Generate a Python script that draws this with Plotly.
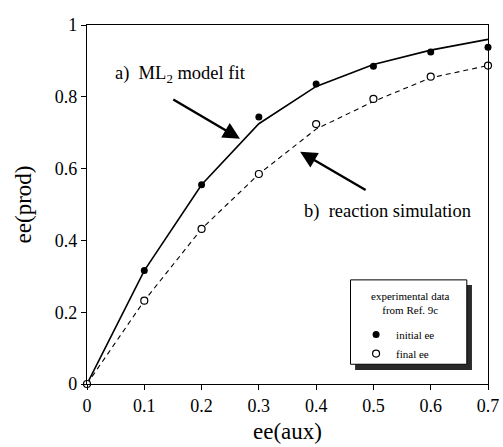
import plotly.graph_objects as go

# ---- data ----
ee_aux_line = [0, 0.1, 0.2, 0.3, 0.4, 0.5, 0.6, 0.7]
model_fit = [0, 0.316, 0.555, 0.725, 0.829, 0.89, 0.93, 0.96]
reaction_sim = [0, 0.232, 0.432, 0.585, 0.71, 0.787, 0.853, 0.887]

ee_aux_initial = [0.1, 0.2, 0.3, 0.4, 0.5, 0.6, 0.7]
initial_ee = [0.316, 0.555, 0.744, 0.836, 0.885, 0.925, 0.938]

ee_aux_final = [0, 0.1, 0.2, 0.3, 0.4, 0.5, 0.6, 0.7]
final_ee = [0, 0.232, 0.432, 0.585, 0.724, 0.794, 0.856, 0.887]

x_ticks = [0, 0.1, 0.2, 0.3, 0.4, 0.5, 0.6, 0.7]
y_ticks = [0, 0.2, 0.4, 0.6, 0.8, 1]

FONT = "Liberation Serif"

fig = go.Figure()
fig.add_trace(go.Scatter(x=ee_aux_line, y=model_fit, mode="lines",
                         line=dict(color="black", width=1.6), showlegend=False,
                         cliponaxis=False))
fig.add_trace(go.Scatter(x=ee_aux_line, y=reaction_sim, mode="lines",
                         line=dict(color="black", width=1.1, dash="5px,4px"),
                         showlegend=False, cliponaxis=False))
fig.add_trace(go.Scatter(x=ee_aux_initial, y=initial_ee, mode="markers", name="initial ee",
                         marker=dict(symbol="circle", size=7, color="black"),
                         cliponaxis=False))
fig.add_trace(go.Scatter(x=ee_aux_final, y=final_ee, mode="markers", name="final ee",
                         marker=dict(symbol="circle", size=7, color="white",
                                     line=dict(color="black", width=1.2)),
                         cliponaxis=False))

# legend box with shadow
fig.add_shape(type="rect", xref="x", yref="y", x0=0.468, x1=0.672, y0=0.039, y1=0.276,
              fillcolor="#2a2a2a", line=dict(width=0), layer="above")
fig.add_shape(type="rect", xref="x", yref="y", x0=0.460, x1=0.663, y0=0.055, y1=0.290,
              fillcolor="white", line=dict(color="black", width=1), layer="above")
fig.add_annotation(x=0.564, y=0.226, xref="x", yref="y", xanchor="center", yanchor="middle",
                   text="experimental data<br>from Ref. 9c", showarrow=False,
                   font=dict(family=FONT, size=11, color="black"))

# annotations
fig.add_annotation(x=0.267, y=0.683, ax=0.148, ay=0.795, xref="x", yref="y",
                   axref="x", ayref="y", text="", showarrow=True,
                   arrowhead=2, arrowsize=1.4, arrowwidth=2.4, arrowcolor="black")
fig.add_annotation(x=0.372, y=0.647, ax=0.489, ay=0.538, xref="x", yref="y",
                   axref="x", ayref="y", text="", showarrow=True,
                   arrowhead=2, arrowsize=1.4, arrowwidth=2.4, arrowcolor="black")
fig.add_annotation(x=0.045, y=0.862, xref="x", yref="y", xanchor="left", yanchor="middle",
                   text="a)  ML<sub>2</sub> model fit", showarrow=False,
                   font=dict(family=FONT, size=18.5, color="black"))
fig.add_annotation(x=0.375, y=0.48, xref="x", yref="y", xanchor="left", yanchor="middle",
                   text="b)  reaction simulation", showarrow=False,
                   font=dict(family=FONT, size=18.5, color="black"))

fig.update_layout(
    width=503, height=447,
    margin=dict(l=87, r=15, t=25, b=63, autoexpand=False),
    paper_bgcolor="white", plot_bgcolor="white",
    font=dict(family=FONT, color="black"),
    showlegend=True,
    legend=dict(x=0.671, y=0.178, xanchor="left", yanchor="top",
                bgcolor="rgba(0,0,0,0)", borderwidth=0,
                font=dict(family=FONT, size=11), itemwidth=30,
                tracegroupgap=0),
    xaxis=dict(range=[0, 0.7], tickvals=x_ticks, ticktext=[str(v) for v in x_ticks],
               showgrid=False, zeroline=False, showline=True, linecolor="black",
               linewidth=1.3, mirror=True, ticks="outside", ticklen=5, tickcolor="black",
               tickfont=dict(family=FONT, size=18), automargin=False,
               title=dict(text="ee(aux)", font=dict(family=FONT, size=23), standoff=8)),
    yaxis=dict(range=[0, 1], tickvals=y_ticks, ticktext=[str(v) for v in y_ticks],
               showgrid=False, zeroline=False, showline=True, linecolor="black",
               linewidth=1.3, mirror=True, ticks="outside", ticklen=5, tickcolor="black",
               tickfont=dict(family=FONT, size=18), automargin=False,
               title=dict(text="ee(prod)", font=dict(family=FONT, size=23), standoff=16)),
)

fig.write_html("out.html", config={"displayModeBar": False},
               post_script="document.body.style.margin='0';document.body.style.overflow='hidden';")
